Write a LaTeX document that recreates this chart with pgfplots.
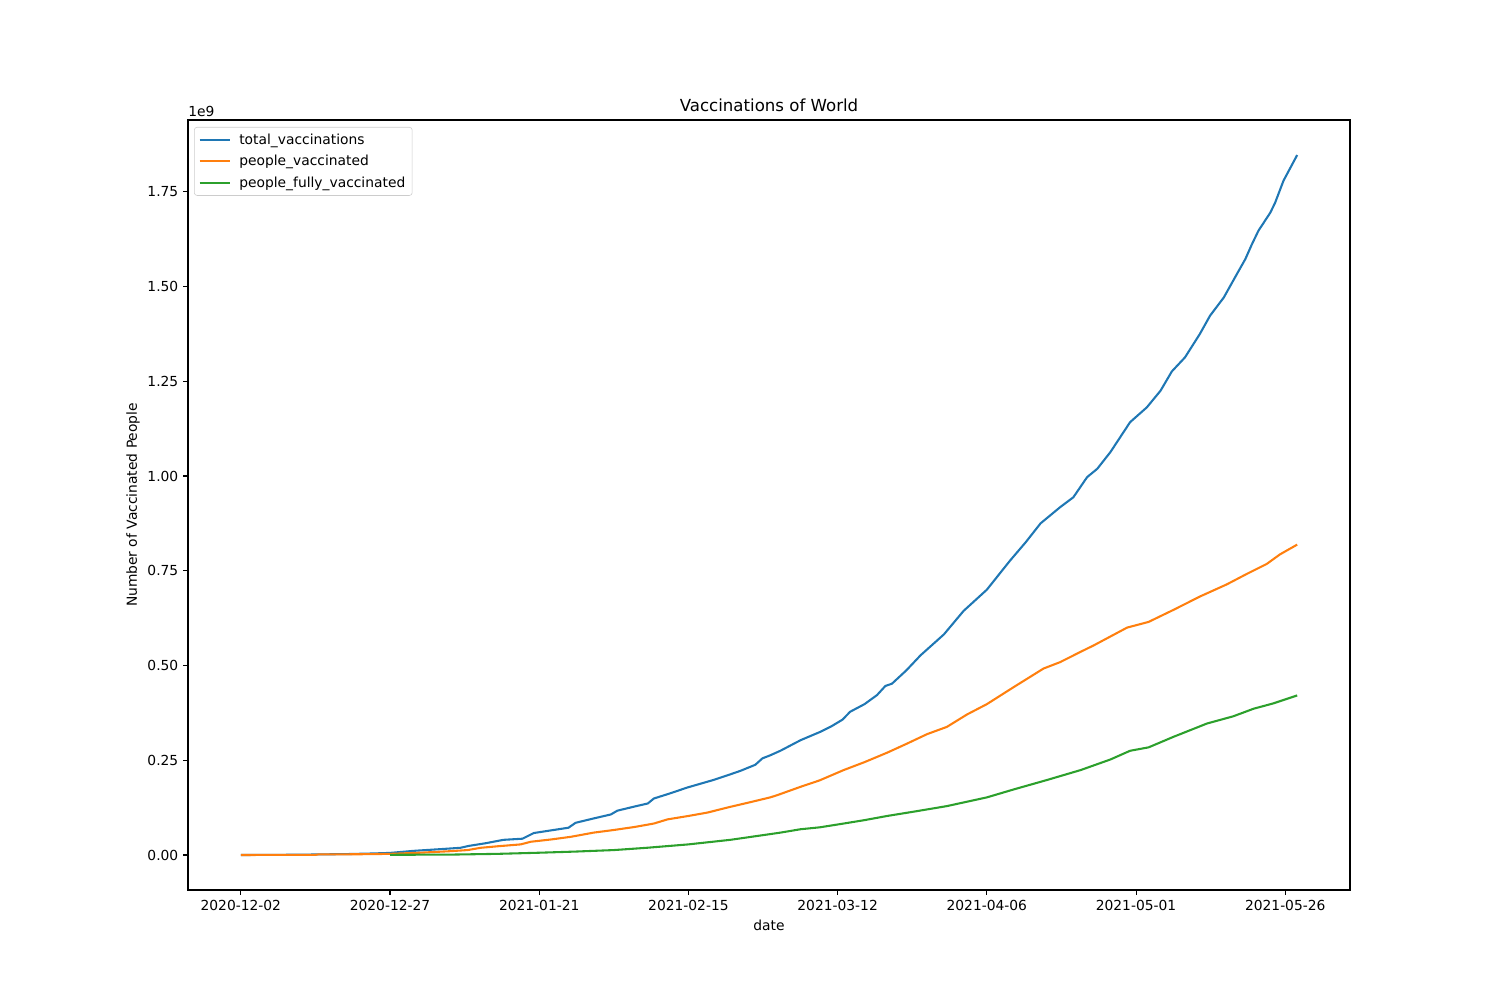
\documentclass[border=0pt]{standalone}
\usepackage{fontspec}
\setmainfont{DejaVu Sans}
\usepackage{pgfplots}
\pgfplotsset{compat=1.18}
\definecolor{c1}{HTML}{1F77B4}
\definecolor{c2}{HTML}{FF7F0E}
\definecolor{c3}{HTML}{2CA02C}
\begin{document}
\begin{tikzpicture}
\path[use as bounding box] (-1.88in,-1.10in) rectangle (13.12in,8.90in);
\begin{axis}[
  at={(0,0)}, anchor=south west, scale only axis,
  width=11.62in, height=7.70in,
  clip mode=individual,
  xmin=-8.85, xmax=185.85, ymin=-0.09235, ymax=1.93935,
  axis line style={line width=0.8pt},
  tick align=outside, major tick length=3.5pt,
  every tick/.style={black, line width=0.8pt},
  xtick={0,25,50,75,100,125,150,175},
  xticklabels={2020-12-02,2020-12-27,2021-01-21,2021-02-15,2021-03-12,2021-04-06,2021-05-01,2021-05-26},
  ytick={0,0.25,0.5,0.75,1,1.25,1.5,1.75},
  scaled y ticks=false,
  yticklabel style={/pgf/number format/.cd, fixed, fixed zerofill, precision=2, assume math mode=true},
  tick label style={font=\fontsize{10}{12}\selectfont},
  xtick pos=bottom, ytick pos=left,
  title={Vaccinations of World},
  every axis title/.style={at={(axis description cs:0.5,1)}, anchor=base, yshift=5.8pt, font=\fontsize{12}{14}\selectfont},
  xlabel={date},
  xlabel style={at={(axis description cs:0.5,-0.0455)}, anchor=center, font=\fontsize{10}{12}\selectfont},
  ylabel={Number of Vaccinated People},
  ylabel style={at={(axis description cs:-0.0473,0.5)}, anchor=center, rotate=0, font=\fontsize{10}{12}\selectfont},
  legend style={at={(axis description cs:0.0052,0.9909)}, anchor=north west, draw=black!20, rounded corners=2pt, font=\fontsize{10}{12}\selectfont, fill=white, fill opacity=0.8, text opacity=1, inner xsep=3pt, inner ysep=2.5pt, row sep=2.5pt},
  legend cell align=left,
  legend image code/.code={\draw[#1] (0in,0in) -- (0.30in,0in); \path (0.36in,0in);},
]
\addplot[c1, line width=1.5pt] coordinates {
(0,0) (5,0.0003) (10,0.0008) (13,0.0015) (18,0.0025) (22,0.004) (25,0.0055) (29,0.011) (33,0.015) (36.8,0.019) (38.2,0.024) (41,0.031) (44,0.04) (47.2,0.043) (49.1,0.058) (52,0.065) (54.9,0.072) (56.1,0.085) (59,0.096) (62,0.107) (63.1,0.117) (66,0.128) (68.2,0.136) (69.2,0.149) (72,0.163) (74.8,0.178) (77,0.188) (79.2,0.198) (81.5,0.21) (83.7,0.222) (86.2,0.238) (87.4,0.255) (88.7,0.263) (90.4,0.275) (93.8,0.303) (97.1,0.325) (99,0.34) (100.8,0.357) (102.1,0.378) (104.5,0.398) (106.6,0.422) (108.0,0.446) (109.1,0.452) (111.5,0.487) (113.9,0.527) (117.8,0.582) (121.1,0.644) (125.0,0.700) (128.9,0.777) (131.5,0.825) (134,0.875) (137.3,0.918) (139.5,0.944) (141.8,0.997) (143.5,1.019) (145.7,1.063) (149.0,1.142) (151.8,1.181) (154.1,1.225) (156.0,1.276) (158.2,1.313) (160.7,1.375) (162.4,1.423) (164.7,1.471) (166.9,1.533) (168.3,1.572) (169.4,1.611) (170.5,1.647) (172.5,1.695) (173.3,1.721) (174.7,1.779) (177,1.847)
};
\addlegendentry{total\_vaccinations}
\addplot[c2, line width=1.5pt] coordinates {
(0,0) (12.5,0.0005) (13,0.0015) (20,0.002) (25,0.003) (30,0.006) (35,0.010) (38,0.013) (40.2,0.019) (43,0.023) (46.9,0.028) (48.6,0.035) (52,0.041) (55.3,0.048) (59.1,0.059) (62.5,0.066) (66,0.074) (69.2,0.083) (71.5,0.094) (75,0.103) (78.2,0.112) (82,0.127) (85,0.138) (88.7,0.152) (89.9,0.158) (93.8,0.180) (97,0.197) (101,0.224) (104.5,0.245) (108.3,0.270) (111.5,0.293) (115,0.319) (118.3,0.338) (121.7,0.371) (125,0.398) (129.5,0.443) (134.5,0.492) (137.3,0.509) (140.7,0.536) (142.9,0.553) (148.5,0.600) (152.1,0.615) (156.3,0.647) (160.7,0.682) (165.2,0.714) (168.6,0.742) (171.9,0.768) (174.1,0.793) (177,0.819)
};
\addlegendentry{people\_vaccinated}
\addplot[c3, line width=1.5pt] coordinates {
(25,0.0005) (30,0.0008) (35,0.001) (43,0.003) (50,0.006) (56,0.009) (62.5,0.013) (68,0.019) (75,0.028) (82,0.040) (86,0.049) (90.4,0.059) (93.8,0.068) (97,0.073) (101,0.083) (104.5,0.092) (108.3,0.103) (113,0.115) (118.3,0.129) (121.5,0.14) (125,0.152) (129.5,0.173) (135.1,0.198) (140.7,0.224) (145.7,0.252) (149,0.275) (152.1,0.284) (156.3,0.312) (161.9,0.347) (166.3,0.366) (169.7,0.386) (173,0.400) (177,0.421)
};
\addlegendentry{people\_fully\_vaccinated}
\node[anchor=base west, inner sep=0pt, font=\fontsize{10}{12}\selectfont] at (rel axis cs:0,1) [yshift=2.2pt] {1e9};
\end{axis}
\end{tikzpicture}
\end{document}
